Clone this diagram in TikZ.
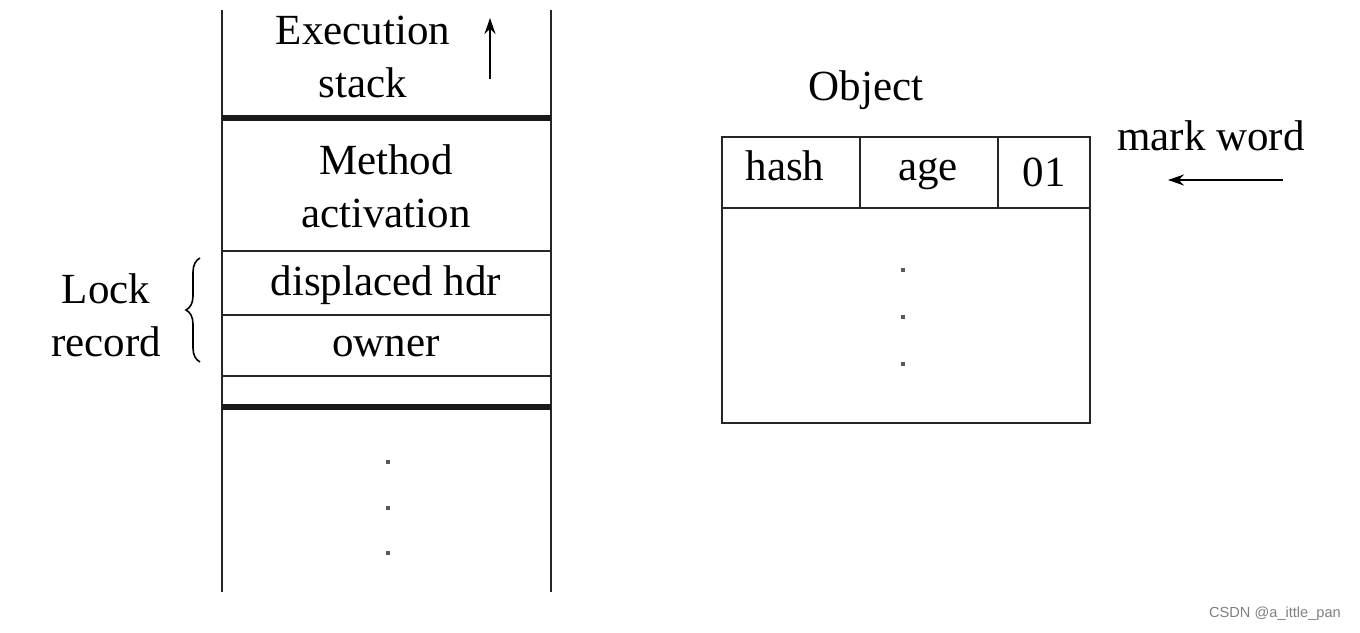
\documentclass[tikz,border=0pt]{standalone}
\usepackage{fontspec}
\setmainfont{Liberation Serif}
\setsansfont{Liberation Sans}
\usetikzlibrary{arrows.meta,decorations.pathreplacing}

\begin{document}
\begin{tikzpicture}[x=0.5pt,y=-0.5pt,
    txt/.style={font=\fontsize{21.5}{26.5}\selectfont,align=center,inner sep=0pt},
    word/.style={txt,anchor=base},
    wall/.style={line width=1.1pt,black!85},
    bar/.style={line width=3pt,black!90},
    dotmark/.style={rectangle,fill=black!65,inner sep=0pt,minimum size=2pt},
    ptr/.style={-{Stealth[length=8pt,width=5.5pt]},line width=1pt},
    stamp/.style={font=\sffamily\fontsize{7.3}{9}\selectfont,text=black!50},
]
\useasboundingbox (0,0) rectangle (1360,632);

% execution stack
\coordinate (stl) at (222,10);
\coordinate (str) at (551,10);
\coordinate (sbl) at (222,592);
\coordinate (sbr) at (551,592);
\draw[wall] (stl) -- (sbl);
\draw[wall] (str) -- (sbr);
\draw[bar] (222,118) -- (551,118);
\draw[wall] (222,251) -- (551,251);
\draw[wall] (222,315) -- (551,315);
\draw[wall] (222,376) -- (551,376);
\draw[bar] (222,407) -- (551,407);

\node[txt] (exec) at (363,57) {Execution\\stack};
\coordinate (upa) at (490,79);
\coordinate (upb) at (490,18);
\draw[ptr] (upa) -- (upb);

\node[txt] (method) at (386,186) {Method\\activation};
\node[word] (dhdr) at (386,295) {displaced hdr};
\node[word] (owner) at (386,356) {owner};

\foreach \y in {462,508,553}
  \node[dotmark] at (388,\y) {};

% lock record
\coordinate (lrb) at (200,362);
\coordinate (lrt) at (200,258);
\draw[decorate,decoration={brace,amplitude=7pt},line width=0.8pt] (lrb) -- (lrt);
\node[txt] (lock) at (106,315) {Lock\\record};

% object
\node[word] (object) at (866,100) {Object};
\draw[wall] (722,137) rectangle (1090,423);
\draw[wall] (722,208) -- (1090,208);
\draw[wall] (860,137) -- (860,208);
\draw[wall] (998,137) -- (998,208);
\node[word] (hash) at (785,180) {hash};
\node[word] (age) at (928,180) {age};
\node[word] (bits) at (1044,186) {01};

\foreach \y in {270,317,364}
  \node[dotmark] at (903,\y) {};

\node[word] (mark) at (1211,150) {mark word};
\coordinate (mka) at (1283,180);
\coordinate (mkb) at (1168,180);
\draw[ptr] (mka) -- (mkb);

\node[stamp] (csdn) at (1275,614) {CSDN @a\_ittle\_pan};

\end{tikzpicture}
\end{document}
